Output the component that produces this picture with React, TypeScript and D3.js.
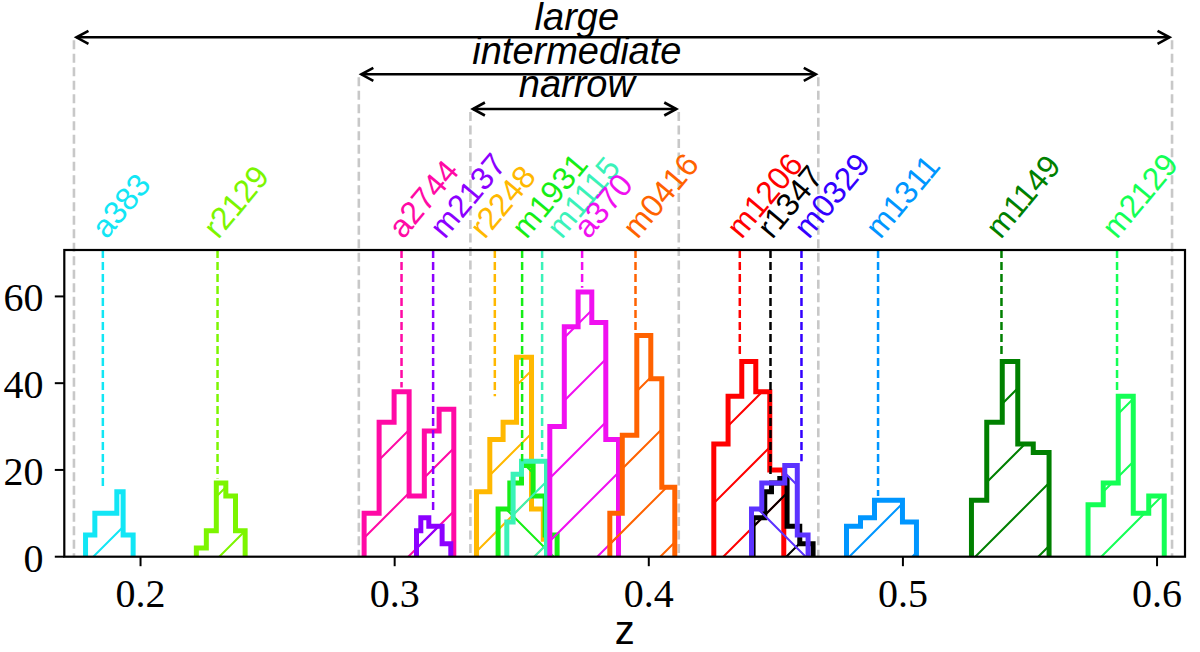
import React from "react";
import * as d3 from "d3";

// clusters, left to right in redshift
const names = ["a383", "r2129", "a2744", "m2137", "r2248", "m1931", "m1115", "a370",
    "m0416", "m1206", "r1347", "m0329", "m1311", "m1149", "m2129"];

const medianZ = [0.18517, 0.23030, 0.30270, 0.31513, 0.33941, 0.35015, 0.35802, 0.37376,
    0.39477, 0.43581, 0.44789, 0.46008, 0.49022, 0.53878, 0.58426];

// lower end of each median marker, in counts
const medianTop = [16, 18, 39, 10, 37, 22, 23, 62, 52, 46, 19, 22, 14, 46, 38];

const binEdges = [
    [0.17836, 0.18202, 0.19067, 0.19315, 0.19709],
    [0.22196, 0.22589, 0.22982, 0.23356, 0.23738, 0.24116],
    [0.28798, 0.29388, 0.29978, 0.30569, 0.31167, 0.31749, 0.32327],
    [0.30860, 0.31029, 0.31344, 0.31867, 0.32209],
    [0.33221, 0.33744, 0.34267, 0.34794, 0.35385, 0.35849, 0.36026],
    [0.34070, 0.34531, 0.34991, 0.35448, 0.35920, 0.36392],
    [0.34413, 0.34661, 0.34991, 0.35975],
    [0.36105, 0.36675, 0.37218, 0.37757, 0.38308, 0.38808],
    [0.38466, 0.38957, 0.39528, 0.40079, 0.40512, 0.41023],
    [0.42558, 0.43120, 0.43659, 0.44210, 0.44761, 0.45312],
    [0.44104, 0.44564, 0.44828, 0.45155, 0.45442, 0.45941, 0.46465],
    [0.44041, 0.44446, 0.45351, 0.45843, 0.46268],
    [0.47779, 0.48330, 0.48881, 0.49431, 0.49982, 0.50533],
    [0.52697, 0.53299, 0.53909, 0.54519, 0.55129, 0.55751],
    [0.57285, 0.57883, 0.58473, 0.59064, 0.59673, 0.60283],
];

const binCounts = [
    [5, 10, 15, 5],
    [2, 6, 17, 14, 6],
    [10, 31, 38, 14, 29, 34],
    [6, 9, 7, 3],
    [15, 27, 31, 46, 11, 4],
    [11, 17, 21, 14, 5],
    [8, 19, 22],
    [30, 53, 61, 54, 27],
    [10, 28, 51, 41, 16],
    [26, 37, 45, 38, 20],
    [9, 15, 17, 18, 7, 3],
    [11, 17, 21, 5],
    [7, 9, 13, 13, 8],
    [13, 31, 45, 26, 24],
    [12, 17, 37, 10, 14],
];

// redshift windows
const rangeNames = ["large", "intermediate", "narrow"];
const rangeLo = [0.1738, 0.2859, 0.3298];
const rangeHi = [0.6059, 0.4667, 0.4118];
const rangeTextZ = 0.3717;

const xTicks = [0.2, 0.3, 0.4, 0.5, 0.6];
const yTicks = [0, 20, 40, 60];

// styling
const colors = ["#12e6f5", "#7cf500", "#ff0aa5", "#8c00ff", "#ffb800", "#16ee16", "#3af2b8", "#f010f0",
    "#ff6200", "#ff0000", "#000000", "#5c33ff", "#0096ff", "#008000", "#14ff55"];
const labelColors = colors.map((c, i) => (names[i] === "m0329" ? "#3300ff" : c));
const hatchDir = names.map(n => (n === "m1931" || n === "m0329" ? "\\" : "/"));
const labelDx = [3.7, 0.6, 1.6, 11.7, -10, 4.4, 19.7, 6.5, 2, 1.8, 1.7, 7.3, 2.3, -0.7, -0.3];
const arrowY = [37.3, 74.3, 109];
const textY = [30.3, 63.8, 97];

const W = 1200, H = 652;
const box = {left: 64.3, right: 1185, top: 250, bottom: 556.7};
const SANS = "'Liberation Sans', Arial, sans-serif";
const SERIF = "'Liberation Serif', 'Times New Roman', serif";
const P = 63; // hatch spacing

const x = d3.scaleLinear().domain([0.17, 0.611]).range([box.left, box.right]);
const y = d3.scaleLinear().domain([0, 70.7]).range([box.bottom, box.top]);

function stepPoints(edges: number[], counts: number[]): [number, number][] {
    const pts: [number, number][] = [[x(edges[0]), y(0)]];
    counts.forEach((c, i) => {
        pts.push([x(edges[i]), y(c)]);
        pts.push([x(edges[i + 1]), y(c)]);
    });
    pts.push([x(edges[edges.length - 1]), y(0)]);
    return pts;
}

const line = d3.line();

function hatchPath(dir: string) {
    if (dir === "/") {
        return [20, 20 + P].map(c => `M-4,${c + 4}L${c + 4},-4`).join("");
    }
    return [-3, 60].map(c => `M${c - 4},-4L${c + P + 4},${P + 4}`).join("");
}

const App: React.FC = () => {
    return (
        <svg width={W} height={H} style={{position: "absolute", left: 0, top: 0, background: "#fff"}}>
            <defs>
                {names.map((n, i) => (
                    <pattern key={n} id={`hatch-${i}`} patternUnits="userSpaceOnUse" width={P} height={P}>
                        <path d={hatchPath(hatchDir[i])} stroke={colors[i]} strokeWidth={2} fill="none"/>
                    </pattern>
                ))}
                <clipPath id="plot">
                    <rect x={box.left} y={box.top} width={box.right - box.left} height={box.bottom - box.top}/>
                </clipPath>
            </defs>

            {/* redshift windows */}
            {rangeNames.map((r, i) => {
                const x0 = x(rangeLo[i]), x1 = x(rangeHi[i]), ay = arrowY[i];
                const a0 = x0 + 2.5, a1 = x1 - 2.5;
                return (
                    <g key={r}>
                        {[x0, x1].map((gx, j) => (
                            <line key={j} x1={gx} x2={gx} y1={ay + 3} y2={box.bottom}
                                  stroke="#c8c8c8" strokeWidth={2.6} strokeDasharray="9 4.5"/>
                        ))}
                        <line x1={a0} x2={a1} y1={ay} y2={ay} stroke="#000" strokeWidth={2.6}/>
                        <path d={`M${a0 + 12},${ay - 6.5}L${a0},${ay}L${a0 + 12},${ay + 6.5}`}
                              stroke="#000" strokeWidth={2.6} fill="none"/>
                        <path d={`M${a1 - 12},${ay - 6.5}L${a1},${ay}L${a1 - 12},${ay + 6.5}`}
                              stroke="#000" strokeWidth={2.6} fill="none"/>
                        <text x={x(rangeTextZ)} y={textY[i]} textAnchor="middle" fontFamily={SANS}
                              fontStyle="italic" fontSize={38}>{r}</text>
                    </g>
                );
            })}

            {/* histograms */}
            <g clipPath="url(#plot)">
                {names.map((n, i) => {
                    const pts = stepPoints(binEdges[i], binCounts[i]);
                    return (
                        <g key={n}>
                            <path d={line(pts) + "Z"} fill={`url(#hatch-${i})`} stroke="none"/>
                            <path d={line(pts) ?? ""} fill="none" stroke={colors[i]} strokeWidth={5}
                                  strokeLinejoin="miter"/>
                        </g>
                    );
                })}
                {names.map((n, i) => (
                    <line key={n} x1={x(medianZ[i])} x2={x(medianZ[i])} y1={box.top} y2={y(medianTop[i])}
                          stroke={labelColors[i]} strokeWidth={2.5} strokeDasharray="8 4"/>
                ))}
            </g>

            {/* cluster labels */}
            {names.map((n, i) => {
                const lx = x(medianZ[i]) + labelDx[i], ly = 240;
                return (
                    <text key={n} x={lx} y={ly} transform={`rotate(-50, ${lx}, ${ly})`}
                          fill={labelColors[i]} fontFamily={SANS} fontSize={32}>{n}</text>
                );
            })}

            {/* axes frame */}
            <rect x={box.left} y={box.top} width={box.right - box.left} height={box.bottom - box.top}
                  fill="none" stroke="#000" strokeWidth={2.2}/>
            {xTicks.map(t => (
                <g key={t}>
                    <line x1={x(t)} x2={x(t)} y1={box.bottom} y2={box.bottom + 9.5} stroke="#000" strokeWidth={2}/>
                    <text x={x(t)} y={607} textAnchor="middle" fontFamily={SERIF} fontSize={40}>{t.toFixed(1)}</text>
                </g>
            ))}
            {yTicks.map(t => (
                <g key={t}>
                    <line x1={box.left} x2={box.left - 9.5} y1={y(t)} y2={y(t)} stroke="#000" strokeWidth={2}/>
                    <text x={43.5} y={y(t) + 15} textAnchor="end" fontFamily={SERIF} fontSize={40}>{t}</text>
                </g>
            ))}
            <text x={(box.left + box.right) / 2} y={644} textAnchor="middle" fontFamily={SANS}
                  fontSize={40}>z</text>
        </svg>
    );
};

export default App;
